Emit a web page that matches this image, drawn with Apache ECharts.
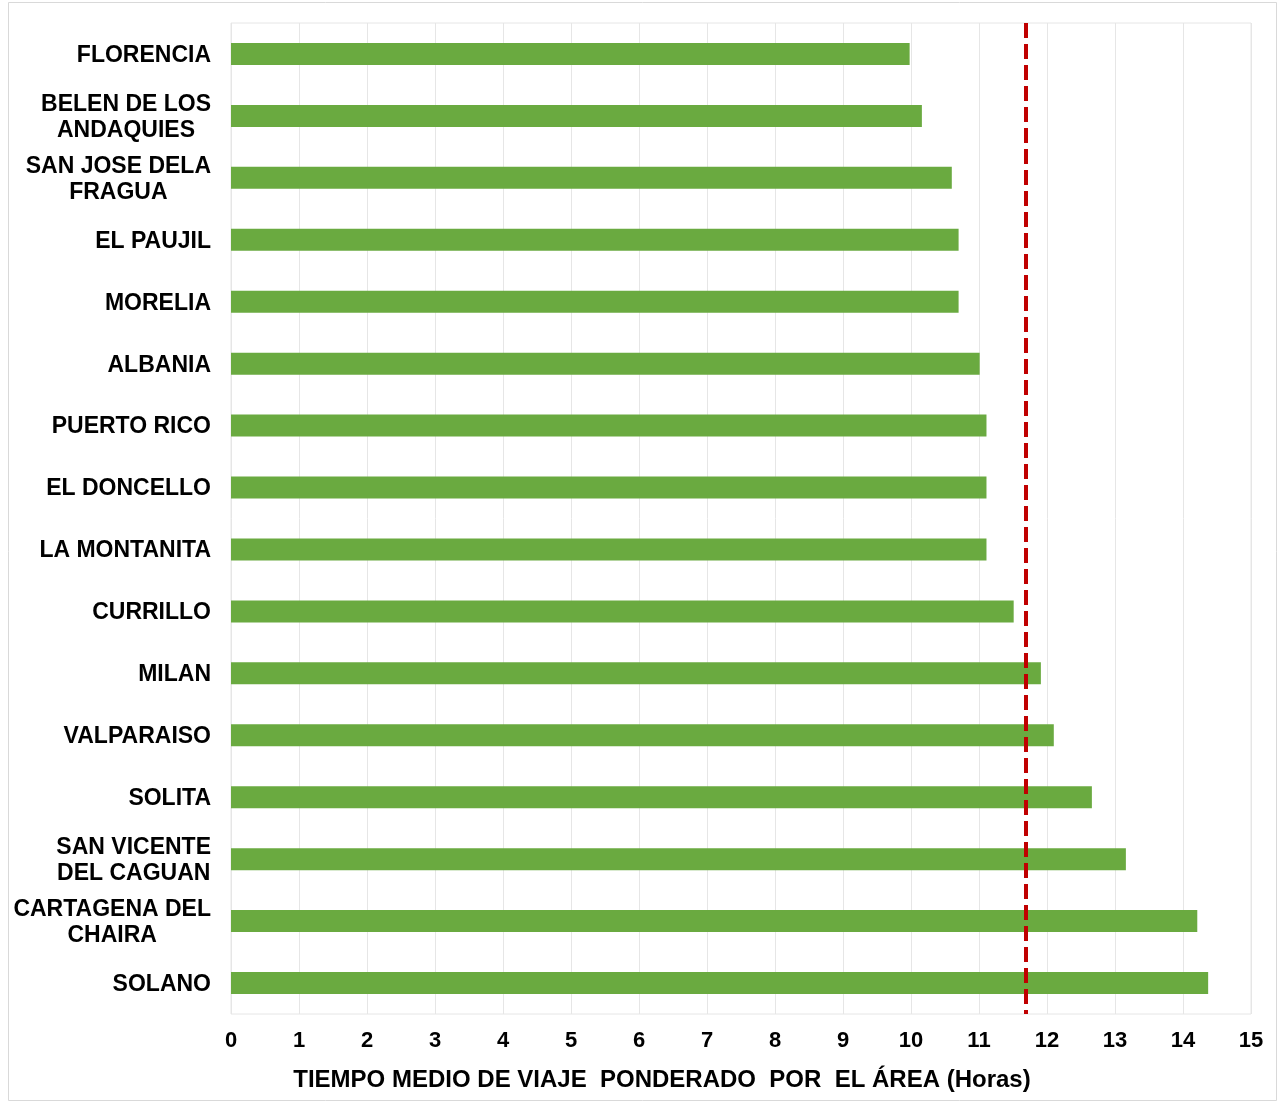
<!DOCTYPE html>
<html><head><meta charset="utf-8">
<script src="https://cdn.jsdelivr.net/npm/echarts@6/dist/echarts.min.js"></script>
<style>html,body{margin:0;padding:0;background:#fff}#c{width:1279px;height:1104px}</style>
</head><body><div id="c"></div>
<script>
const categories = ["FLORENCIA","BELEN DE LOS\nANDAQUIES","SAN JOSE DELA\nFRAGUA","EL PAUJIL","MORELIA","ALBANIA","PUERTO RICO","EL DONCELLO","LA MONTANITA","CURRILLO","MILAN","VALPARAISO","SOLITA","SAN VICENTE\nDEL CAGUAN","CARTAGENA DEL\nCHAIRA","SOLANO"];
const values = [9.98,10.16,10.6,10.7,10.7,11.01,11.11,11.11,11.11,11.51,11.91,12.1,12.66,13.16,14.21,14.37];
const meanValue = 11.69;
const xAxisTitle = "TIEMPO MEDIO DE VIAJE  PONDERADO  POR  EL ÁREA (Horas)";

const chart = echarts.init(document.getElementById('c'), null, {renderer:'canvas'});
chart.setOption({
  backgroundColor:'#fff',
  animation:false,
  graphic:[{type:'rect', shape:{x:8.5,y:2.5,width:1268,height:1098}, style:{fill:'none',stroke:'#d9d9d9',lineWidth:1}}],
  title:{text:xAxisTitle, left:657, top:1063, textAlign:'center',
    textStyle:{fontFamily:'Liberation Sans',fontWeight:'bold',fontSize:24,color:'#000'}},
  grid:{left:231, right:28, top:23, bottom:90, show:true, borderColor:'#e6e6e6', borderWidth:1},
  xAxis:{type:'value', min:0, max:15, interval:1,
    axisLine:{show:false}, axisTick:{show:false},
    splitLine:{show:true, lineStyle:{color:'#e6e6e6', width:1}},
    axisLabel:{margin:16, fontFamily:'Liberation Sans', fontWeight:'bold', fontSize:22, color:'#000'}},
  yAxis:{type:'category', data:categories, inverse:true,
    axisLine:{show:false}, axisTick:{show:false}, splitLine:{show:false},
    axisLabel:{margin:20, fontFamily:'Liberation Sans', fontWeight:'bold', fontSize:23, color:'#000', lineHeight:26,
      padding:[3,0,0,0],
      formatter:function(v){return v.split('\n').map(s=>'{c|'+s+'}').join('\n');},
      rich:{c:{align:'center', fontFamily:'Liberation Sans', fontWeight:'bold', fontSize:23, lineHeight:26, color:'#000'}}}},
  series:[{type:'bar', data:values, barWidth:22,
    itemStyle:{color:'#6AAA40'},
    markLine:{silent:true, symbol:['none','none'], label:{show:false},
      lineStyle:{color:'#C00000', width:4, type:[15,6]},
      data:[{xAxis:meanValue}]}}]
});
</script></body></html>
